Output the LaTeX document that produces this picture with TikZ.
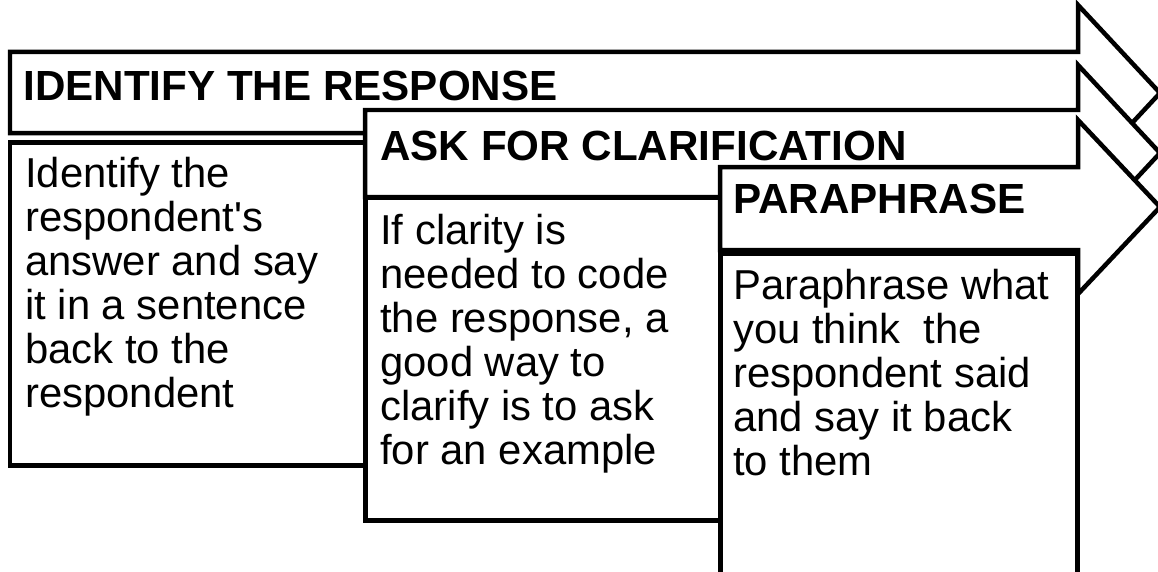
\documentclass[tikz,border=0pt]{standalone}
\usepackage{fontspec}
\setmainfont{Liberation Sans}[Ligatures=TeXOff]
\usetikzlibrary{positioning}

\begin{document}
\begin{tikzpicture}
[x=0.02cm, y=-0.02cm,
 steparrow/.style={draw, fill=white, line width=0.09cm, line join=miter},
 stepbody/.style={draw, fill=white, line width=0.1cm},
 headtext/.style={anchor=base west, inner sep=0pt, font=\fontsize{24}{28}\selectfont\bfseries},
 bodytext/.style={anchor=north west, inner sep=0pt, align=left, font=\fontsize{23.8}{25}\selectfont}]
    \useasboundingbox (0,0) rectangle (1158,571);
    % first step
    \filldraw[steparrow] (10,52) -- (1078,52) -- (1078,5) -- (1160,93) -- (1078,181) -- (1078,133) -- (10,133) -- cycle;
    \node[headtext](idhead) at (23,100) {IDENTIFY THE RESPONSE};
    \filldraw[stepbody] (10,142) rectangle (365,465);
    \node[bodytext](idtext) at (25,157) {Identify the\\respondent's\\answer and say\\it in a sentence\\back to the\\respondent};
    % second step
    \filldraw[steparrow] (365,110) -- (1078,110) -- (1078,65) -- (1160,153) -- (1078,241) -- (1078,197) -- (365,197) -- cycle;
    \node[headtext](askhead) at (380,160) {ASK FOR CLARIFICATION};
    \filldraw[stepbody] (365,197) rectangle (720,520);
    \node[bodytext](asktext) at (380,214) {If clarity is\\needed to code\\the response, a\\good way to\\clarify is to ask\\for an example};
    % third step
    \filldraw[steparrow] (720,167) -- (1078,167) -- (1078,120) -- (1160,207) -- (1078,294) -- (1078,250) -- (720,250) -- cycle;
    \node[headtext](parahead) at (733,213) {PARAPHRASE};
    \filldraw[stepbody] (720,253) rectangle (1077,580);
    \node[bodytext](paratext) at (733,269) {Paraphrase what\\you think~ the\\respondent said\\and say it back\\to them};
\end{tikzpicture}
\end{document}
